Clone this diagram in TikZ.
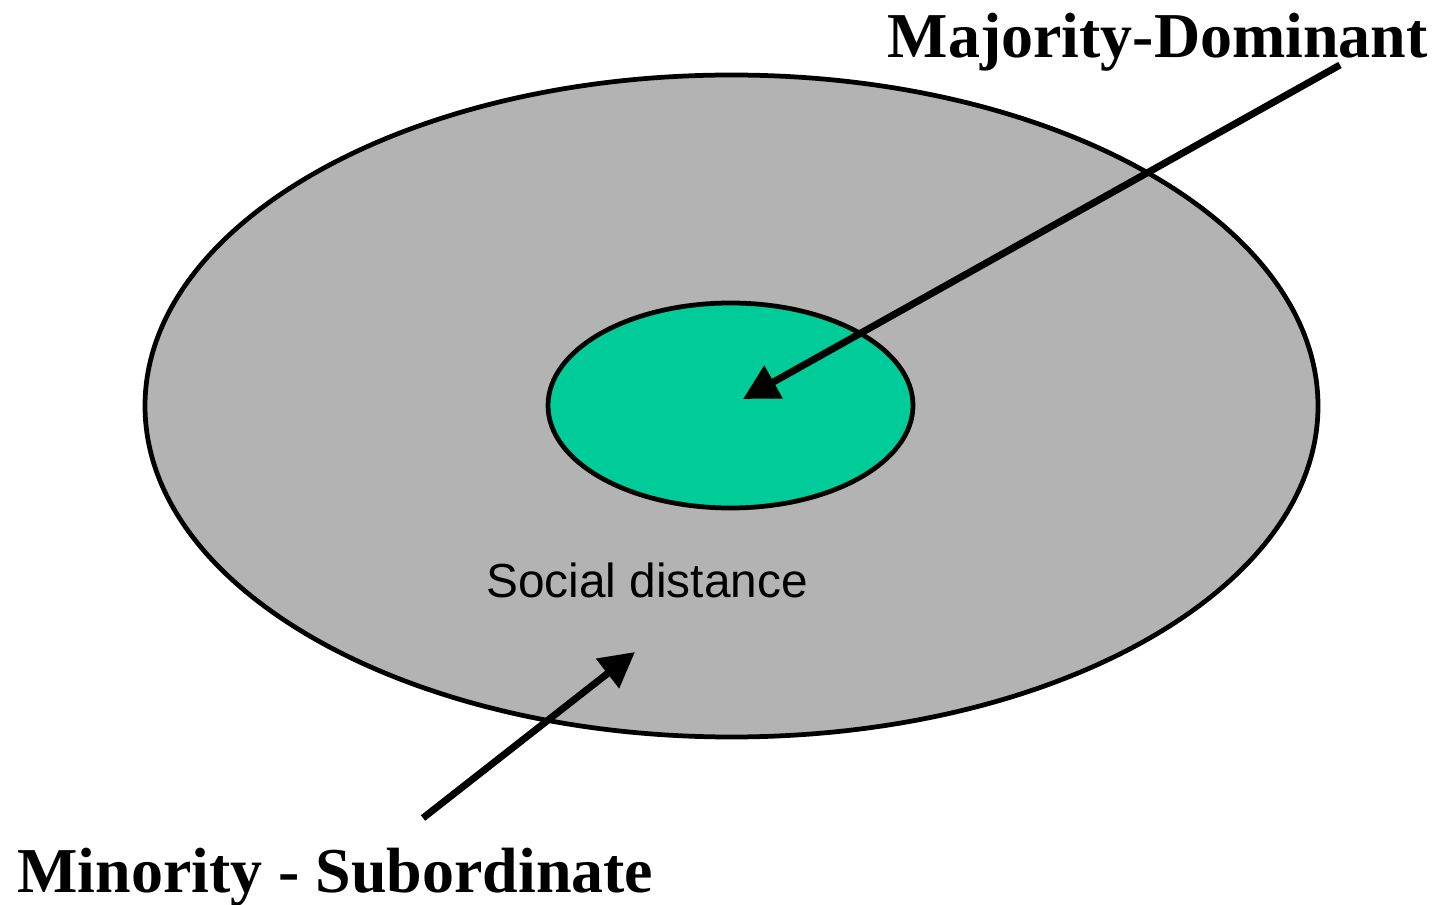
\documentclass[tikz,border=0pt]{standalone}
\usepackage{fontspec}
\setmainfont{Liberation Serif}
\newfontfamily\arialfont{Liberation Sans}
\usetikzlibrary{arrows.meta}
\definecolor{outergray}{HTML}{B3B3B3}
\definecolor{innergreen}{HTML}{00CC99}
\tikzset{
  ring/.style={draw=black, line width=0.095cm},
  pointer/.style={line width=0.14cm, -{Triangle[length=0.7cm, width=0.72cm]}},
  bigtitle/.style={font=\fontsize{36.4}{40}\selectfont\bfseries, inner sep=0pt},
  inlabel/.style={font=\arialfont\fontsize{27.2}{30}\selectfont, inner sep=0pt}
}
\begin{document}
\begin{tikzpicture}[x=0.02cm, y=-0.02cm]
  \useasboundingbox (0,0) rectangle (1437,905);
  \path[ring, fill=outergray] (731.5,406) ellipse [x radius=586.5, y radius=331];
  \path[ring, fill=innergreen] (730.5,405.5) ellipse [x radius=182.5, y radius=102.5];
  \node[inlabel, anchor=base west] (social) at (486,597) {Social distance};
  \node[bigtitle, anchor=base east] (major) at (1428,58) {Majority-Dominant};
  \node[bigtitle, anchor=base west] (minor) at (17,892) {Minority - Subordinate};
  \coordinate (s1) at (1340,65);
  \coordinate (t1) at (743,399);
  \coordinate (s2) at (423,818);
  \coordinate (t2) at (635,652);
  \draw[pointer] (s1) -- (t1);
  \draw[pointer] (s2) -- (t2);
\end{tikzpicture}
\end{document}
